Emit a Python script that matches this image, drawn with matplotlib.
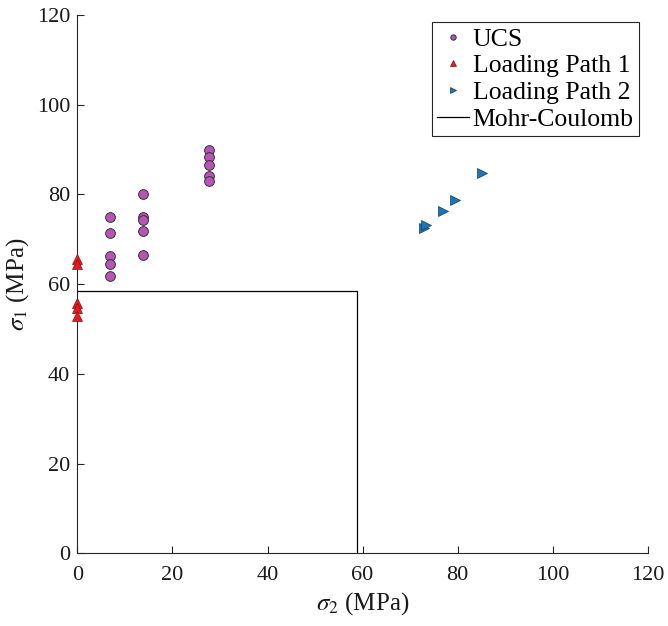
"""Failure stresses: UCS and biaxial loading paths vs Mohr-Coulomb."""

import matplotlib
matplotlib.use("Agg")
import matplotlib.pyplot as plt

plt.rcParams["font.family"] = ["Liberation Serif", "DejaVu Serif"]
plt.rcParams["mathtext.fontset"] = "stix"

# UCS tests (sigma2, sigma1)
ucs_s2 = [6.9, 6.9, 6.9, 6.9, 6.9,
          13.8, 13.8, 13.8, 13.8, 13.8,
          27.6, 27.6, 27.6, 27.6, 27.6]
ucs_s1 = [74.9, 71.3, 66.3, 64.4, 61.8,
          80.0, 74.9, 74.4, 71.8, 66.5,
          89.9, 88.4, 86.5, 84.1, 83.1]

# Loading path 1
lp1_s2 = [0, 0, 0, 0, 0]
lp1_s1 = [65.6, 64.5, 55.8, 54.7, 52.8]

# Loading path 2
lp2_s2 = [72.9, 73.4, 77.0, 79.5, 85.2]
lp2_s1 = [72.5, 73.1, 76.4, 78.7, 84.8]

# Mohr-Coulomb envelope
mc_s2 = [0, 58.8, 58.8]
mc_s1 = [58.5, 58.5, 0]

fig = plt.figure(figsize=(6.68, 6.26), dpi=100)
ax = fig.add_axes([0.1157, 0.1161, 0.8543, 0.860])

ax.plot(ucs_s2, ucs_s1, "o", color=(0.72, 0.33, 0.72), markeredgecolor="#333333",
        markeredgewidth=0.7, markersize=7, linestyle="none", label="UCS")
ax.plot(lp1_s2, lp1_s1, "^", color="#E8191C", markeredgecolor="#8B1010",
        markeredgewidth=0.5, markersize=7, linestyle="none", label="Loading Path 1",
        clip_on=False, zorder=5)
ax.plot(lp2_s2, lp2_s1, ">", color="#1F74B8", markeredgecolor="#0E3E66",
        markeredgewidth=0.5, markersize=7, linestyle="none", label="Loading Path 2")
ax.plot(mc_s2, mc_s1, "-", color="black", linewidth=0.9, label="Mohr-Coulomb")

ax.set_xlim(0, 120)
ax.set_ylim(0, 120)
ax.set_xticks(range(0, 121, 20))
ax.set_yticks(range(0, 121, 20))
ax.tick_params(direction="in", length=5, width=0.8, labelsize=16, colors="#262626",
               labelcolor="#1a1a1a", pad=5)
ax.tick_params(axis="x", pad=9)
for side in ["top", "right"]:
    ax.spines[side].set_visible(False)
for side in ["left", "bottom"]:
    ax.spines[side].set_color("#262626")
    ax.spines[side].set_linewidth(0.8)

ax.set_xlabel(r"$\sigma_2$ (MPa)", fontsize=18, color="#1a1a1a", labelpad=4)
ax.set_ylabel(r"$\sigma_1$ (MPa)", fontsize=18, color="#1a1a1a", labelpad=4)

leg = ax.legend(loc="upper right", bbox_to_anchor=(0.984, 0.986), fontsize=18.5,
                markerscale=0.55, handlelength=1.25, handletextpad=0.15,
                borderpad=0.2, labelspacing=0.15, borderaxespad=0.0,
                fancybox=False, framealpha=1)
leg.get_frame().set_edgecolor("#262626")
leg.get_frame().set_linewidth(0.8)

fig.savefig("out.png", dpi=100)
